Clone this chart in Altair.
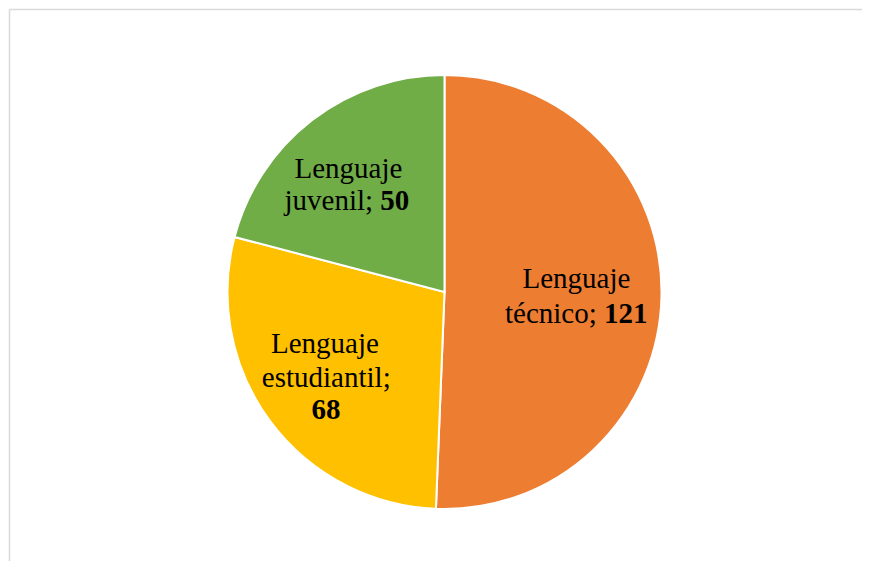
import altair as alt
import pandas as pd

# ---- data ----
categories = ["Lenguaje técnico", "Lenguaje estudiantil", "Lenguaje juvenil"]
values = [121, 68, 50]
colors = ["#ED7D31", "#FFC000", "#70AD47"]
line1 = ["Lenguaje", "Lenguaje", "Lenguaje"]
line2 = ["técnico;", "estudiantil;", "juvenil;"]

df = pd.DataFrame({
    "category": categories,
    "value": values,
    "order": list(range(len(categories))),
    "line1": line1,
    "line2": line2,
    "vtext": [str(v) for v in values],
})

W, H = 854, 553
CX, CY = 436.5, 284
R = 217
FONT = "Liberation Serif"
FS = 29

arcs = alt.Chart(df).mark_arc(outerRadius=R, stroke="white", strokeWidth=2).encode(
    x=alt.value(CX),
    y=alt.value(CY),
    theta=alt.Theta("value:Q", stack=True),
    color=alt.Color("category:N", scale=alt.Scale(domain=categories, range=colors), legend=None),
    order=alt.Order("order:Q"),
)

base = (
    alt.Chart(df)
    .transform_window(cum="sum(value)", sort=[alt.SortField("order")], frame=[None, 0])
    .transform_joinaggregate(total="sum(value)")
    .transform_calculate(mid="(datum.cum - datum.value/2)/datum.total*2*PI")
)


def txt(cat, field, r, dx, dy, align="center", bold=False):
    return (
        base.transform_filter(alt.datum.category == cat)
        .mark_text(
            radius=r, dx=dx, dy=dy, align=align, baseline="alphabetic",
            font=FONT, fontSize=FS, fontWeight="bold" if bold else "normal", color="black",
        )
        .encode(
            x=alt.value(CX),
            y=alt.value(CY),
            theta=alt.Theta("mid:Q", scale=None, stack=False),
            text=alt.Text(f"{field}:N"),
        )
    )


texts = [
    # técnico
    txt(categories[0], "line1", 131, 1, -6.6),
    txt(categories[0], "line2", 131, 21.3, 28.4, align="right"),
    txt(categories[0], "vtext", 131, 28.6, 28.4, align="left", bold=True),
    # estudiantil
    txt(categories[1], "line1", 148, -0.6, -26.8),
    txt(categories[1], "line2", 148, 0.7, 6.6),
    txt(categories[1], "vtext", 148, 0.4, 38.9, bold=True),
    # juvenil
    txt(categories[2], "line1", 158, 0.5, 11.4),
    txt(categories[2], "line2", 158, 25.1, 42.6, align="right"),
    txt(categories[2], "vtext", 158, 32.4, 42.6, align="left", bold=True),
]

frame_df = pd.DataFrame({"a": [0]})
border_v = alt.Chart(frame_df).mark_rule(color="#D9D9D9", strokeWidth=1.5).encode(
    x=alt.value(1.5), y=alt.value(1.5), y2=alt.value(H)
)
border_h = alt.Chart(frame_df).mark_rule(color="#D9D9D9", strokeWidth=1.5).encode(
    x=alt.value(1.5), x2=alt.value(W), y=alt.value(1.5)
)

chart = (
    alt.layer(border_v, border_h, arcs, *texts)
    .properties(width=W, height=H, padding=0, autosize="none", background="white")
    .configure_view(stroke=None)
)

chart.save("out.html", embed_options={"renderer": "svg", "actions": False})
